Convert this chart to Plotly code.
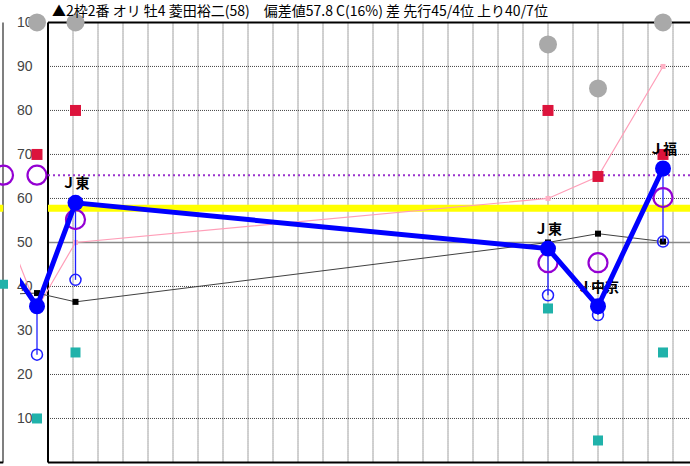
import plotly.graph_objects as go

# ---------------- data ----------------
# race positions on the time axis (months from the panel frame)
race_x = [-0.44, 1.1, 20.0, 22.0, 24.6]
places = ["", "Ｊ東", "Ｊ東", "Ｊ中京", "Ｊ福"]
gray_vals = [100, 100, 95, 85, 100]
red_vals = [70, 80, 80, 65, 70]
teal_vals = [10, 25, 35, 5, 25]
purple_vals = [None, 55.2, 45.4, 45.4, 60.2]
blue_vals = [35.5, 59.0, 48.6, 35.5, 66.8]
blue_low_vals = [24.5, 41.5, 38.0, 33.5, 50.2]
pink_vals = [35.0, 50.0, 60.0, 65.0, 90.0]
black_vals = [38.5, 36.5, 50.0, 52.0, 50.2]

# previous race (left of this panel, only the line continuations show)
prev_x = -2.7
prev_blue = 54.3
prev_pink = 67.7
prev_black = 38.0

deviation = 57.8          # 偏差値
purple_level = 65.3
purple_level_x = [-0.44, 25.96]

# remnants of the neighbouring (left) panel
left_teal = 40.5
left_purple = 65.3

ytick_vals = [10, 20, 30, 40, 50, 60, 70, 80, 90, 100]
ytick_text = ["10", "20", "30", "40", "50", "60", "70", "80", "90", "100"]
month_grid = list(range(1, 26))

title = "▲2枠2番 オリ 牡4 菱田裕二(58)\u3000偏差値57.8 C(16%) 差 先行45/4位 上り40/7位"

# ---------------- figure ----------------
W, H = 690, 466
X0, X1 = -1.12, 25.68
Y0, Y1 = -0.8, 105.1
FONT = "Noto Sans CJK JP"

fig = go.Figure()

# yellow deviation line
fig.add_trace(go.Scatter(x=[0, X1 + 1], y=[deviation, deviation], mode="lines",
                         line=dict(color="#ffff00", width=7), hoverinfo="skip"))
# purple dotted level line with end markers
fig.add_trace(go.Scatter(x=[0, X1 + 1], y=[purple_level, purple_level], mode="lines",
                         line=dict(color="#9932cc", width=2, dash="2px,3px"), hoverinfo="skip"))
fig.add_trace(go.Scatter(x=purple_level_x, y=[purple_level] * len(purple_level_x), mode="markers",
                         marker=dict(symbol="circle-open", size=19, color="#9400d3",
                                     line=dict(width=2.2, color="#9400d3")),
                         cliponaxis=False, hoverinfo="skip"))
# pink line
fig.add_trace(go.Scatter(x=[prev_x] + race_x, y=[prev_pink] + pink_vals, mode="lines+markers",
                         line=dict(color="#ff9eb8", width=1.2),
                         marker=dict(symbol="square", size=5, color="#ffb0c4"), cliponaxis=True))
# black line
fig.add_trace(go.Scatter(x=[prev_x] + race_x, y=[prev_black] + black_vals, mode="lines+markers",
                         line=dict(color="#404040", width=1),
                         marker=dict(symbol="square", size=6, color="#000000")))
# teal squares
fig.add_trace(go.Scatter(x=race_x, y=teal_vals, mode="markers",
                         marker=dict(symbol="square", size=10, color="#20b2aa"), cliponaxis=False))
# red squares
fig.add_trace(go.Scatter(x=race_x, y=red_vals, mode="markers",
                         marker=dict(symbol="square", size=11, color="#dc143c"), cliponaxis=False))
# gray circles
fig.add_trace(go.Scatter(x=race_x, y=gray_vals, mode="markers",
                         marker=dict(symbol="circle", size=18, color="#a9a9a9"), cliponaxis=False))
# blue connectors
cx, cy = [], []
for xv, a, b in zip(race_x, blue_vals, blue_low_vals):
    cx += [xv, xv, None]
    cy += [a, b, None]
fig.add_trace(go.Scatter(x=cx, y=cy, mode="lines", line=dict(color="#1f1fff", width=1.3),
                         hoverinfo="skip"))
# blue hollow circles
fig.add_trace(go.Scatter(x=race_x, y=blue_low_vals, mode="markers",
                         marker=dict(symbol="circle-open", size=11, color="#1f1fff",
                                     line=dict(width=1.5, color="#1f1fff")), cliponaxis=False))
# purple hollow circles
fig.add_trace(go.Scatter(x=race_x, y=purple_vals, mode="markers",
                         marker=dict(symbol="circle-open", size=19, color="#9400d3",
                                     line=dict(width=2.2, color="#9400d3")), cliponaxis=False))
# place labels
fig.add_trace(go.Scatter(x=race_x, y=blue_vals, mode="markers+text", text=places,
                         textposition="top center",
                         textfont=dict(family=FONT, size=14, color="#000000", weight="bold"),
                         marker=dict(size=16, opacity=0), cliponaxis=False, hoverinfo="skip"))
# blue main line
fig.add_trace(go.Scatter(x=[prev_x] + race_x, y=[prev_blue] + blue_vals, mode="lines+markers",
                         line=dict(color="#0000ff", width=5),
                         marker=dict(symbol="circle", size=16, color="#0000ff")))

# left neighbouring panel remnants
fig.add_trace(go.Scatter(x=[-1, 0], y=[deviation, deviation], mode="lines", xaxis="x2",
                         line=dict(color="#ffff00", width=7), hoverinfo="skip"))
fig.add_trace(go.Scatter(x=[0], y=[left_teal], mode="markers", xaxis="x2", cliponaxis=False,
                         marker=dict(symbol="square", size=9, color="#20b2aa")))
fig.add_trace(go.Scatter(x=[0], y=[left_purple], mode="markers", xaxis="x2", cliponaxis=False,
                         marker=dict(symbol="circle-open", size=19, color="#9400d3",
                                     line=dict(width=2.2, color="#9400d3"))))

shapes = []
grid_line = dict(color="#444444", width=1, dash="1px,1px")
for m in month_grid:
    shapes.append(dict(type="line", xref="x", yref="y", x0=m, x1=m, y0=0, y1=100,
                       line=grid_line, layer="below"))
for v in ytick_vals[:-1]:
    if v == 50:
        ln = dict(color="#888888", width=1.5)
    else:
        ln = grid_line
    shapes.append(dict(type="line", xref="x", yref="y", x0=0, x1=X1 + 1, y0=v, y1=v,
                       line=ln, layer="below"))
frame = dict(color="#000000", width=2)
shapes.append(dict(type="line", xref="x", yref="y", x0=0, x1=0, y0=0, y1=100, line=frame, layer="below"))
shapes.append(dict(type="line", xref="x", yref="y", x0=0, x1=X1 + 1, y0=100, y1=100, line=frame, layer="below"))
shapes.append(dict(type="line", xref="x", yref="y", x0=0, x1=X1 + 1, y0=0, y1=0, line=frame, layer="below"))
# left panel frame
shapes.append(dict(type="line", xref="x2", yref="y", x0=0, x1=0, y0=0, y1=100, line=frame, layer="below"))
shapes.append(dict(type="line", xref="x2", yref="y", x0=-1, x1=0, y0=0, y1=0, line=frame, layer="below"))

fig.update_layout(
    width=W, height=H,
    margin=dict(l=0, r=0, t=0, b=0),
    paper_bgcolor="white", plot_bgcolor="rgba(0,0,0,0)",
    showlegend=False,
    shapes=shapes,
    xaxis=dict(domain=[20 / W, 1], range=[X0, X1], showgrid=False, zeroline=False,
               showticklabels=False, showline=False, ticks=""),
    xaxis2=dict(domain=[0, 3.5 / W], range=[-1, 0], showgrid=False, zeroline=False,
                showticklabels=False, showline=False, anchor="y"),
    yaxis=dict(domain=[0, 1], range=[Y0, Y1], showgrid=False, zeroline=False, showline=False,
               tickmode="array", tickvals=ytick_vals, ticktext=ytick_text,
               ticklabelposition="inside", ticks="", ticklabelstandoff=-6,
               layer="below traces",
               tickfont=dict(family="Liberation Sans", size=14, color="#444444")),
    annotations=[dict(text=title, xref="paper", yref="paper", x=50 / W, y=1 - 10 / H,
                      xanchor="left", yanchor="middle", showarrow=False,
                      font=dict(family=FONT, size=14, color="#000000"))],
)

fig.write_html("out.html", config={"displayModeBar": False},
               post_script="document.body.style.margin='0';document.body.style.overflow='hidden';")
